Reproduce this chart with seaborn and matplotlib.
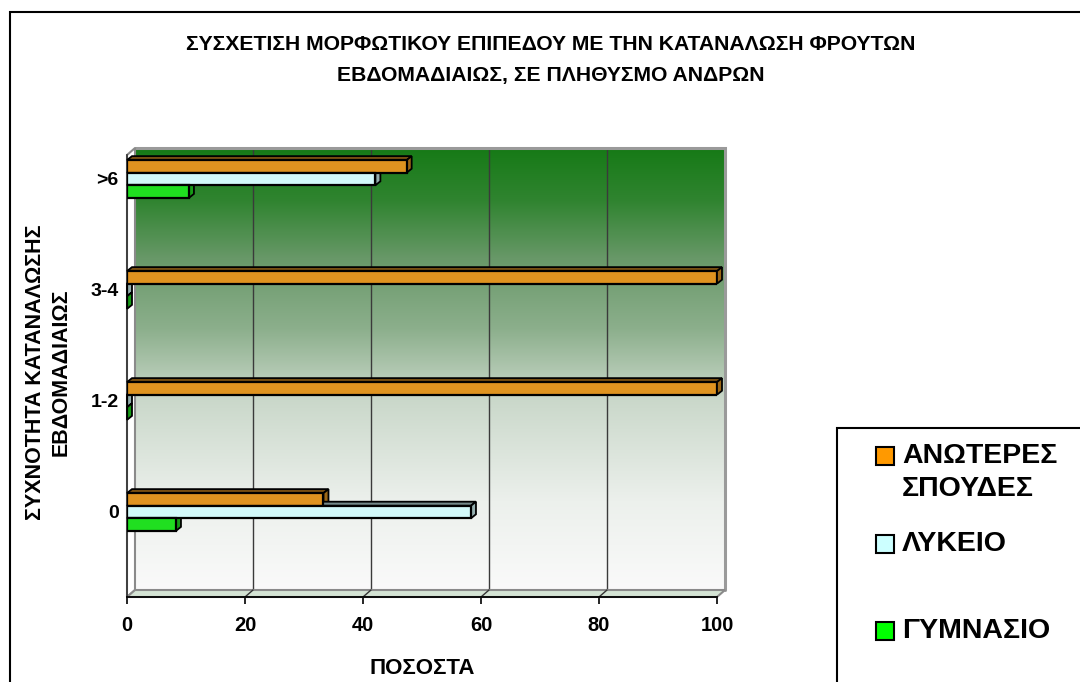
import numpy as np
import pandas as pd
import matplotlib
matplotlib.use("Agg")
import matplotlib.pyplot as plt
from matplotlib.patches import Polygon, Rectangle
from matplotlib.colors import to_rgb
import seaborn as sns

# ---- data -------------------------------------------------------------
frequencies = [">6", "3-4", "1-2", "0"]
levels = ["ΑΝΩΤΕΡΕΣ ΣΠΟΥΔΕΣ", "ΛΥΚΕΙΟ", "ΓΥΜΝΑΣΙΟ"]
higher_ed = [47.4, 100.0, 100.0, 33.3]
lyceum = [42.1, 0.0, 0.0, 58.3]
gymnasium = [10.5, 0.0, 0.0, 8.3]
x_ticks = [0, 20, 40, 60, 80, 100]

colors = {"ΑΝΩΤΕΡΕΣ ΣΠΟΥΔΕΣ": "#FF9900", "ΛΥΚΕΙΟ": "#CCFFFF", "ΓΥΜΝΑΣΙΟ": "#00FF00"}

df = pd.DataFrame({
    "freq": frequencies * 3,
    "level": [levels[0]] * 4 + [levels[1]] * 4 + [levels[2]] * 4,
    "pct": higher_ed + lyceum + gymnasium,
})

sns.set_theme(style="white")
plt.rcParams["font.family"] = ["Liberation Sans", "DejaVu Sans"]
plt.rcParams["font.weight"] = "bold"
for key in ["text.color", "axes.labelcolor", "xtick.color", "ytick.color"]:
    plt.rcParams[key] = "black"

W, H = 1080, 682
fig = plt.figure(figsize=(W / 100, H / 100), dpi=100)
fig.patch.set_facecolor("white")


def fx(px):
    return px / W


def fy(py):
    return 1 - py / H


# front plane of the 3-D plot box
left_px, right_px, top_px, bottom_px = 127, 717, 155, 597
ax = fig.add_axes([fx(left_px), fy(bottom_px), (right_px - left_px) / W, (bottom_px - top_px) / H])
ax.set_facecolor("none")

sns.barplot(data=df, x="pct", y="freq", hue="level", order=frequencies, hue_order=levels,
            palette=colors, orient="h", width=0.34, edgecolor="black", linewidth=1.6,
            legend=False, ax=ax, zorder=5)
bars = list(ax.patches)

# axis limits: category centres spaced 111 px, first centre at 179 px
y_top = (top_px - 179) / 111
y_bot = (bottom_px - 179) / 111
ax.set_xlim(0, 100)
ax.set_ylim(y_bot, y_top)

px_x = (right_px - left_px) / 100.0   # pixels per x unit
px_y = 111.0                          # pixels per category

# depth offset of the back wall
wdx, wdy = 8 / px_x, -7 / px_y
# gradient on back wall
stops = [(0.0, (22, 122, 22)), (0.12, (48, 132, 48)), (0.25, (104, 152, 104)),
         (0.41, (140, 175, 140)), (0.57, (202, 216, 202)), (0.8, (236, 240, 236)),
         (1.0, (250, 250, 250))]
t = np.linspace(0, 1, 300)
grad = np.zeros((300, 1, 3))
for c in range(3):
    grad[:, 0, c] = np.interp(t, [s[0] for s in stops], [s[1][c] / 255 for s in stops])
ax.imshow(grad, extent=(wdx, 100 + wdx, y_bot + wdy, y_top + wdy), origin="upper",
          aspect="auto", interpolation="bilinear", zorder=0, clip_on=False)

# back wall grid lines and border
for xv in x_ticks[1:-1]:
    ax.plot([xv + wdx, xv + wdx], [y_bot + wdy, y_top + wdy], color="#3a3a3a", lw=1.0,
            zorder=1, clip_on=False)
ax.plot([wdx, 100 + wdx, 100 + wdx], [y_top + wdy, y_top + wdy, y_bot + wdy],
        color="#9a9a9a", lw=2.2, zorder=1, clip_on=False, solid_joinstyle="miter")

# left wall
ax.add_patch(Polygon([(0, y_top), (wdx, y_top + wdy), (wdx, y_bot + wdy), (0, y_bot)],
                     closed=True, facecolor="white", edgecolor="#8a8a8a", lw=1.5,
                     zorder=1, clip_on=False))
# floor
ax.add_patch(Polygon([(0, y_bot), (100, y_bot), (100 + wdx, y_bot + wdy), (wdx, y_bot + wdy)],
                     closed=True, facecolor="#d4e3d4", edgecolor="#8a8a8a", lw=1.5,
                     zorder=1, clip_on=False))
for xv in x_ticks[1:-1]:
    ax.plot([xv, xv + wdx], [y_bot, y_bot + wdy], color="#333333", lw=1.0, zorder=2,
            clip_on=False)

# 3-D faces on every bar
bdx, bdy = 5 / px_x, -4 / px_y
for p in bars:
    x0 = p.get_x()
    x1 = x0 + p.get_width()
    ya, yb = p.get_y(), p.get_y() + p.get_height()
    yt, ybm = min(ya, yb), max(ya, yb)
    base = np.array(to_rgb(p.get_facecolor()))
    top_c = base * 0.55
    side_c = base * 0.7
    ax.add_patch(Polygon([(x0, yt), (x1, yt), (x1 + bdx, yt + bdy), (x0 + bdx, yt + bdy)],
                         closed=True, facecolor=top_c, edgecolor="black", lw=1.3, zorder=4,
                         clip_on=False))
    ax.add_patch(Polygon([(x1, yt), (x1 + bdx, yt + bdy), (x1 + bdx, ybm + bdy), (x1, ybm)],
                         closed=True, facecolor=side_c, edgecolor="black", lw=1.3, zorder=4,
                         clip_on=False))

# axes styling
for s in ["top", "right"]:
    ax.spines[s].set_visible(False)
ax.spines["bottom"].set_color("black")
ax.spines["bottom"].set_linewidth(1.3)
ax.spines["left"].set_color("#333333")
ax.spines["left"].set_linewidth(1.2)
ax.spines["bottom"].set_zorder(3)
ax.set_xticks(x_ticks)
ax.set_xticklabels([str(v) for v in x_ticks], fontsize=14.5, fontweight="bold")
ax.tick_params(axis="x", direction="out", length=5, width=1.2, color="black", pad=9,
               bottom=True)
ax.tick_params(axis="y", length=0, pad=6)
for lab in ax.get_yticklabels():
    lab.set_fontsize(14)
    lab.set_fontweight("bold")
ax.set_xlabel("")
ax.set_ylabel("")
fig.text(fx(422), fy(668), "ΠΟΣΟΣΤΑ", ha="center", va="center", fontsize=16,
         fontweight="bold")

# y axis title (two rotated lines)
fig.text(fx(36), fy(372), "ΣΥΧΝΟΤΗΤΑ ΚΑΤΑΝΑΛΩΣΗΣ", rotation=90, ha="center", va="center",
         fontsize=15.5, fontweight="bold")
fig.text(fx(61), fy(372), "ΕΒΔΟΜΑΔΙΑΙΩΣ", rotation=90, ha="center", va="center",
         fontsize=15.5, fontweight="bold")

# title
fig.text(fx(551), fy(45), "ΣΥΣΧΕΤΙΣΗ ΜΟΡΦΩΤΙΚΟΥ ΕΠΙΠΕΔΟΥ ΜΕ ΤΗΝ ΚΑΤΑΝΑΛΩΣΗ ΦΡΟΥΤΩΝ",
         ha="center", va="center", fontsize=15.2, fontweight="bold")
fig.text(fx(551), fy(75), "ΕΒΔΟΜΑΔΙΑΙΩΣ, ΣΕ ΠΛΗΘΥΣΜΟ ΑΝΔΡΩΝ",
         ha="center", va="center", fontsize=15.2, fontweight="bold")

# outer chart border
fig.add_artist(Rectangle((fx(10), fy(700)), (1100 - 10) / W, (700 - 12) / H,
                         transform=fig.transFigure, facecolor="none", edgecolor="black",
                         lw=1.5, clip_on=False))

# legend box
fig.add_artist(Rectangle((fx(837), fy(700)), (1100 - 837) / W, (700 - 428) / H,
                         transform=fig.transFigure, facecolor="white", edgecolor="black",
                         lw=1.5, clip_on=False, zorder=10))
legend_rows = [(levels[0], ["ΑΝΩΤΕΡΕΣ", "ΣΠΟΥΔΕΣ"], 456), (levels[1], ["ΛΥΚΕΙΟ"], 544),
               (levels[2], ["ΓΥΜΝΑΣΙΟ"], 631)]
sq = 18
for key, lines, cy in legend_rows:
    fig.add_artist(Rectangle((fx(876), fy(cy + sq / 2)), sq / W, sq / H,
                             transform=fig.transFigure, facecolor=colors[key],
                             edgecolor="black", lw=1.5, zorder=11))
    for i, line in enumerate(lines):
        fig.text(fx(902), fy(cy + i * 33), line, ha="left", va="center", fontsize=20.5,
                 fontweight="bold", zorder=12)

fig.savefig("out.png", dpi=100)
